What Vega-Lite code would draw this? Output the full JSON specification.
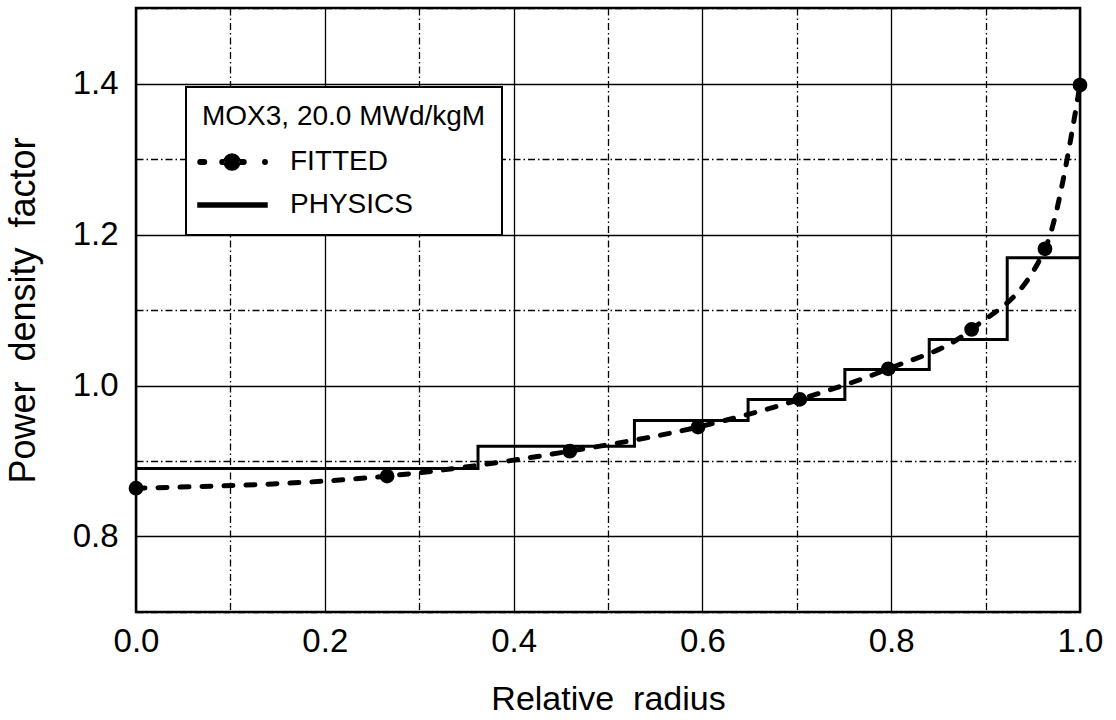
{
  "$schema": "https://vega.github.io/schema/vega-lite/v6.json",
  "width": 944,
  "height": 604,
  "autosize": {"type": "none"},
  "padding": {"left": 136, "top": 8, "right": 36, "bottom": 108},
  "background": "white",
  "config": {
    "font": "Liberation Sans",
    "view": {"stroke": "black", "strokeWidth": 2.5},
    "axis": {
      "labelFont": "Liberation Sans",
      "titleFont": "Liberation Sans",
      "labelColor": "black",
      "titleColor": "black",
      "titleFontWeight": "normal",
      "gridColor": "black",
      "gridOpacity": 1,
      "gridWidth": 1.3,
      "domain": false,
      "ticks": false,
      "tickSize": 0,
      "labelOverlap": false,
      "labelFlush": false,
      "labelBound": false
    }
  },
  "data": {
    "values": [
      {"series": "FITTED", "r": 0.0, "p": 0.864},
      {"series": "FITTED", "r": 0.266, "p": 0.880},
      {"series": "FITTED", "r": 0.4595, "p": 0.913},
      {"series": "FITTED", "r": 0.5954, "p": 0.945},
      {"series": "FITTED", "r": 0.7032, "p": 0.9816},
      {"series": "FITTED", "r": 0.7968, "p": 1.022},
      {"series": "FITTED", "r": 0.8852, "p": 1.0743},
      {"series": "FITTED", "r": 0.9629, "p": 1.181},
      {"series": "FITTED", "r": 1.0, "p": 1.398},
      {"series": "PHYSICS", "r": 0.0, "p": 0.890},
      {"series": "PHYSICS", "r": 0.3623, "p": 0.9197},
      {"series": "PHYSICS", "r": 0.528, "p": 0.9538},
      {"series": "PHYSICS", "r": 0.6484, "p": 0.9816},
      {"series": "PHYSICS", "r": 0.7509, "p": 1.0213},
      {"series": "PHYSICS", "r": 0.8403, "p": 1.061},
      {"series": "PHYSICS", "r": 0.9229, "p": 1.1693},
      {"series": "PHYSICS", "r": 1.0, "p": 1.1693}
    ]
  },
  "encoding": {
    "x": {
      "field": "r",
      "type": "quantitative",
      "scale": {"domain": [0, 1], "nice": false, "zero": false},
      "axis": {
        "values": [0, 0.1, 0.2, 0.3, 0.4, 0.5, 0.6, 0.7, 0.8, 0.9, 1.0],
        "labelExpr": "round(datum.value*10) % 2 === 0 ? format(datum.value, '.1f') : ''",
        "gridDash": {"condition": {"test": "round(datum.value*10) % 2 === 1", "value": [7, 3, 1.5, 3]}, "value": []},
        "labelFontSize": 33,
        "labelPadding": 13,
        "title": "Relative\u00a0 radius",
        "titleFontSize": 34,
        "titlePadding": 24
      }
    },
    "y": {
      "field": "p",
      "type": "quantitative",
      "scale": {"domain": [0.7, 1.5], "nice": false, "zero": false},
      "axis": {
        "values": [0.7, 0.8, 0.9, 1.0, 1.1, 1.2, 1.3, 1.4, 1.5],
        "labelExpr": "round(datum.value*10) % 2 === 0 ? format(datum.value, '.1f') : ''",
        "gridDash": {"condition": {"test": "round(datum.value*10) % 2 === 1", "value": [7, 3, 1.5, 3]}, "value": []},
        "labelFontSize": 33,
        "labelPadding": 18,
        "title": "Power\u00a0 density\u00a0 factor",
        "titleFontSize": 36,
        "titlePadding": 30
      }
    },
    "color": {
      "field": "series",
      "type": "nominal",
      "scale": {"domain": ["FITTED", "PHYSICS"], "range": ["black", "black"]},
      "legend": {
        "title": "MOX3, 20.0 MWd/kgM",
        "orient": "none",
        "legendX": 50,
        "legendY": 79,
        "padding": 16,
        "strokeColor": "black",
        "fillColor": "white",
        "titleFont": "Liberation Sans",
        "titleFontSize": 28,
        "titleFontWeight": "normal",
        "titleColor": "black",
        "titleLimit": 500,
        "titlePadding": 17,
        "labelFont": "Liberation Sans",
        "labelFontSize": 28,
        "labelColor": "black",
        "labelLimit": 300,
        "labelOffset": 60,
        "symbolOffset": 0,
        "rowPadding": 15,
        "symbolSize": 400,
        "encode": {
          "legend": {"update": {"strokeWidth": {"value": 2}}},
          "symbols": {
            "update": {
              "shape": {"signal": "datum.value === 'FITTED' ? 'M-1.58,-0.22H-1.17A0.22,0.22 0 0,1 -1.17,0.22H-1.58A0.22,0.22 0 0,1 -1.58,-0.22Z M0.62,-0.22H0.78A0.22,0.22 0 0,1 0.78,0.22H0.62A0.22,0.22 0 0,1 0.62,-0.22Z M0.8,0A0.8,0.8 0 1,0 2.4,0A0.8,0.8 0 1,0 0.8,0Z M2.42,-0.22H2.78A0.22,0.22 0 0,1 2.78,0.22H2.42A0.22,0.22 0 0,1 2.42,-0.22Z M4.68,0A0.22,0.22 0 1,0 5.12,0A0.22,0.22 0 1,0 4.68,0Z' : 'M-1.8,-0.2H5.1V0.2H-1.8Z'"},
              "size": {"value": 400},
              "fill": {"value": "black"},
              "fillOpacity": {"value": 1},
              "stroke": {"value": "transparent"},
              "opacity": {"value": 1}
            }
          }
        }
      }
    }
  },
  "layer": [
    {
      "transform": [{"filter": "datum.series === 'PHYSICS'"}],
      "mark": {"type": "line", "interpolate": "step-after", "strokeWidth": 3}
    },
    {
      "transform": [{"filter": "datum.series === 'FITTED'"}],
      "mark": {"type": "line", "interpolate": "monotone", "strokeWidth": 5, "strokeDash": [9, 13], "strokeCap": "round"}
    },
    {
      "transform": [{"filter": "datum.series === 'FITTED'"}],
      "mark": {"type": "point", "filled": true, "shape": "circle", "size": 218, "opacity": 1}
    }
  ]
}
